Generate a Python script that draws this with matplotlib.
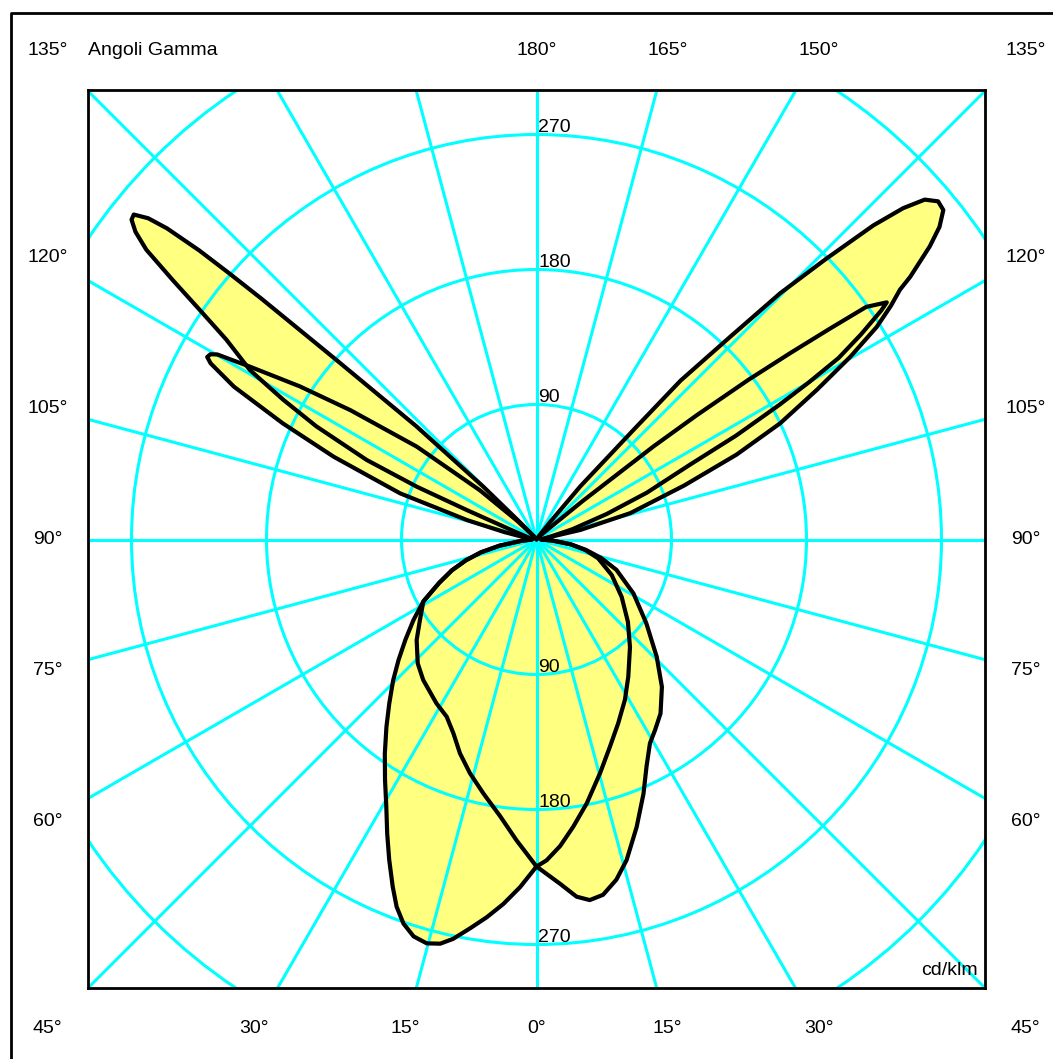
import numpy as np
import matplotlib
matplotlib.use("Agg")
import matplotlib.pyplot as plt
from matplotlib.patches import Circle
from matplotlib.lines import Line2D

plt.rcParams['font.family'] = ['Liberation Sans', 'DejaVu Sans']

# ---- data (gamma in degrees, intensity in cd/klm) ----
# curve A, left half (lower big lobe + upper big lobe)
gamma_A_left = [0, 2.7, 5.2, 7.5, 9.7, 11.8, 13.4, 15.2, 17.2, 19.1, 20.85, 22.5, 24.7, 26.9, 29.4,
                32.2, 35.3, 38.7, 41.9, 45.5, 48.9, 52.6, 56.8, 61.3, 66, 70, 73.6, 77, 80.5, 85, 90,
                100, 106, 110, 112.9, 113.8, 115.1, 117.2, 118.9, 120.6, 122.8, 124.3, 125.5, 126.6,
                127.5, 128.3, 128.9, 129.6, 130.1, 130.6, 130.9, 131.2, 131.9, 133.3, 134.8, 136,
                140, 180]
I_A_left = [218, 232, 244, 254, 263, 272, 277, 279, 277, 271, 262, 250.5, 235, 220, 204,
            189.5, 175, 160, 147, 134, 122, 110, 98, 86, 71, 60, 49, 38, 25, 10, 3,
            4, 7, 15, 50, 87, 125, 165, 193, 222, 246, 272, 298, 324,
            337, 344, 345, 336, 322, 296, 271, 244, 179, 110, 50, 18,
            3, 0]

# curve A, right half (lower inner lobe + upper big lobe)
gamma_A_right = [0, 1.8, 4.4, 7.3, 10.8, 15.2, 19.5, 24.0, 28.9, 33.8, 41, 48, 56, 64.7, 73, 78,
                 82, 86, 90, 100, 102.3, 105.7, 110.1, 113.0, 115.5, 118.1, 120.2, 122, 123.4,
                 124.5, 125.1, 126.7, 127.8, 129.0, 130.1, 131.2, 132.1, 133.0, 134.1, 135.3,
                 136.3, 137.8, 138.5, 140.5, 142, 145, 180]
I_A_right = [218, 214, 205, 193, 179, 161.5, 146.6, 134, 122, 110, 95, 82, 68.5, 55.5, 43, 33,
             23, 11, 3, 8, 30, 65, 105, 145, 180, 212, 242, 267.5, 283,
             294, 304.5, 327, 340, 349, 350, 344, 329.5, 307, 269, 231,
             187, 143, 97, 46, 15, 3, 0]

# curve B, left half (lower small lobe + upper small lobe)
gamma_B_left = [0, 3.8, 7.5, 11.8, 15.9, 19.7, 23.2, 26.9, 31.4, 38.9, 43.8, 50.0, 55.4, 61.3,
                66, 70, 73.6, 77, 80.5, 85, 90, 100, 103, 105.6, 108.7, 112.2, 114.6, 116.8,
                118.4, 119.0, 119.6, 120.1, 121.1, 122.9, 124.8, 127.8, 131, 134, 140, 180]
I_B_left = [218, 201, 186, 173, 162, 151.4, 140.6, 132.4, 128, 120.3, 114.4, 104.3, 94.4, 86,
            71, 60, 49, 38, 25, 10, 3, 8, 22, 48, 96, 146, 186, 226,
            247, 251, 250, 246, 223, 188, 151, 101, 50, 18, 3, 0]

# curve B, right half (lower big lobe + upper small lobe)
gamma_B_right = [0, 3.9, 6.4, 8.4, 10.6, 13.2, 15.7, 19.2, 22.8, 25.9, 29.1, 31.9, 35.5, 40.4,
                 45.7, 52.7, 60.9, 69.2, 74, 78, 82, 86, 90, 100, 106, 110, 113, 116, 117.5, 119,
                 120, 121, 122.3, 123.6, 124.1, 125.2, 125.7, 126.3, 127, 127.8, 128.5, 129.8,
                 132, 140, 180]
I_B_right = [218, 230, 239.6, 243, 241, 233, 222, 203, 184, 168, 155.5, 149.6, 142.4, 129,
             112, 92, 74, 57, 45, 34, 23, 11, 3, 8, 25, 50, 80, 114, 150, 185,
             210, 235, 256, 276, 282, 269, 241, 210, 177, 135, 100, 40,
             10, 2, 0]

circle_values = [90, 180, 270, 360]
circle_labels = ["90", "180", "270"]
bottom_labels = [45, 30, 15, 0]
side_labels = [60, 75, 90, 105, 120]
top_labels = [135, 150, 165, 180]

# ---- figure ----
W, H = 1053, 1059
fig = plt.figure(figsize=(W / 100, H / 100), dpi=100)
ax = fig.add_axes([88 / W, (H - 988) / H, 897 / W, 898 / H])
ax.set_xlim(-299, 299)
ax.set_ylim(-299, 299.67)
ax.set_xticks([])
ax.set_yticks([])
for s in ax.spines.values():
    s.set_linewidth(2.0)
    s.set_color('black')
    s.set_zorder(10)

CYAN = '#00ffff'
YEL = '#ffff80'


def half(g, I, side):
    g = np.radians(np.asarray(g, float))
    I = np.asarray(I, float)
    return side * I * np.sin(g), -I * np.cos(g)


def closed(gl, Il, gr, Ir):
    xl, yl = half(gl, Il, -1)
    xr, yr = half(gr, Ir, 1)
    x = np.concatenate([xl, xr[::-1]])
    y = np.concatenate([yl, yr[::-1]])
    return x, y


curves = [closed(gamma_A_left, I_A_left, gamma_A_right, I_A_right),
          closed(gamma_B_left, I_B_left, gamma_B_right, I_B_right)]

for x, y in curves:
    ax.fill(x, y, color=YEL, lw=0, zorder=1)

# grid
for r in circle_values:
    ax.add_patch(Circle((0, 0), r, fill=False, ec=CYAN, lw=2.2, zorder=2))
R = 600
for a in range(0, 360, 15):
    t = np.radians(a)
    ax.plot([0, R * np.sin(t)], [0, -R * np.cos(t)], color=CYAN, lw=2.2, zorder=2,
            solid_capstyle='butt')

for x, y in curves:
    ax.plot(x, y, color='black', lw=3.0, zorder=4, solid_joinstyle='round')

# circle value labels
for r, lab in zip(circle_values, circle_labels):
    ax.text(1, r + 2, lab, fontsize=14, ha='left', va='baseline', zorder=5)
    ax.text(1, -r + 2, lab, fontsize=14, ha='left', va='baseline', zorder=5)

ax.text(294, -293, "cd/klm", fontsize=14, ha='right', va='bottom', zorder=5)

# angle labels around the box
L = 326
kw = dict(fontsize=14, ha='center', va='center', clip_on=False)
for g in bottom_labels:
    xo = L * np.tan(np.radians(g))
    ax.text(-xo, -L, f"{g}°", **kw)
    if g != 0:
        ax.text(xo, -L, f"{g}°", **kw)
for g in side_labels:
    yo = -L / np.tan(np.radians(g)) if g != 90 else 0
    ax.text(-L, yo, f"{g}°", **kw)
    ax.text(L, yo, f"{g}°", **kw)
for g in top_labels:
    xo = L * np.tan(np.radians(180 - g))
    ax.text(xo, L, f"{g}°", **kw)
ax.text(-L, L, "135°", **kw)

ax.text(-299, L, "Angoli Gamma", fontsize=14, ha='left', va='center', clip_on=False)

# outer frame (partly outside the canvas)
fig.add_artist(Line2D([10.5 / W, 10.5 / W, 1.01], [-0.01, 1 - 13 / H, 1 - 13 / H],
                      transform=fig.transFigure, color='black', lw=2.0))

fig.savefig("out.png", dpi=100)
